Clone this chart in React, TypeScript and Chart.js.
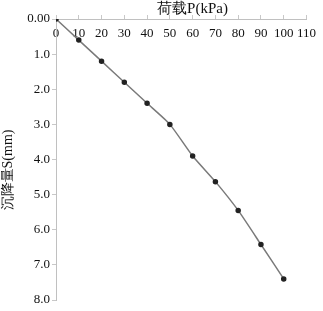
import React, { useEffect, useRef } from "react";
import { Chart, registerables } from "chart.js";

Chart.register(...registerables);

const loads = [0, 10, 20, 30, 40, 50, 60, 70, 80, 90, 100];
const settlements = [0, 0.6, 1.2, 1.8, 2.4, 3.0, 3.9, 4.63, 5.45, 6.42, 7.4];
const xTitle = "\u00a0\u00a0\u00a0\u00a0\u00a0\u00a0荷载P(kPa)";
const yTitle = "沉降量S(mm)\u00a0\u00a0\u00a0\u00a0\u00a0\u00a0";

const serif = "'Liberation Serif', 'Times New Roman', serif";

export default function App() {
  const ref = useRef<HTMLCanvasElement>(null);
  useEffect(() => {
    if (!ref.current) return;
    const chart = new Chart(ref.current, {
      type: "line",
      data: {
        datasets: [
          {
            data: loads.map((x, i) => ({ x, y: settlements[i] })),
            borderColor: "#7a7a7a",
            borderWidth: 1.5,
            pointBackgroundColor: "#222",
            pointBorderColor: "#222",
            pointRadius: 2,
            tension: 0.2,
          },
        ],
      },
      options: {
        animation: false,
        responsive: true,
        maintainAspectRatio: false,
        layout: { padding: { top: 0, right: 14, bottom: 11, left: 0 } },
        plugins: { legend: { display: false }, tooltip: { enabled: false } },
        scales: {
          x: {
            type: "linear",
            position: "top",
            min: 0,
            max: 110,
            afterFit: (s: any) => {
              s.height = 19;
            },
            ticks: {
              stepSize: 10,
              mirror: true,
              padding: 7,
              maxRotation: 0,
              minRotation: 0,
              autoSkip: false,
              color: "#111",
              font: { family: serif, size: 13 },
            },
            grid: {
              drawOnChartArea: false,
              drawTicks: true,
              tickLength: 4,
              color: "#c8c8c8",
            },
            border: { color: "#c0c0c0", width: 1 },
            title: {
              display: true,
              text: xTitle,
              color: "#111",
              font: { family: serif, size: 15 },
              padding: { top: 0, bottom: 0 },
            },
          },
          y: {
            type: "linear",
            reverse: true,
            min: 0,
            max: 8,
            afterFit: (s: any) => {
              s.width = 56;
            },
            ticks: {
              stepSize: 1,
              padding: 2,
              color: "#111",
              font: { family: serif, size: 13 },
              callback: (v: any) => (v === 0 ? "0.00" : Number(v).toFixed(1)),
            },
            grid: {
              drawOnChartArea: false,
              drawTicks: true,
              tickLength: 4,
              color: "#c8c8c8",
            },
            border: { color: "#c0c0c0", width: 1 },
            title: {
              display: true,
              text: yTitle,
              color: "#111",
              font: { family: serif, size: 14 },
              padding: { top: 0, bottom: 0 },
            },
          },
        },
      },
    });
    return () => chart.destroy();
  }, []);
  return (
    <div style={{ position: "absolute", left: 0, top: 0, width: 323, height: 311, background: "#fff" }}>
      <canvas ref={ref} />
    </div>
  );
}
